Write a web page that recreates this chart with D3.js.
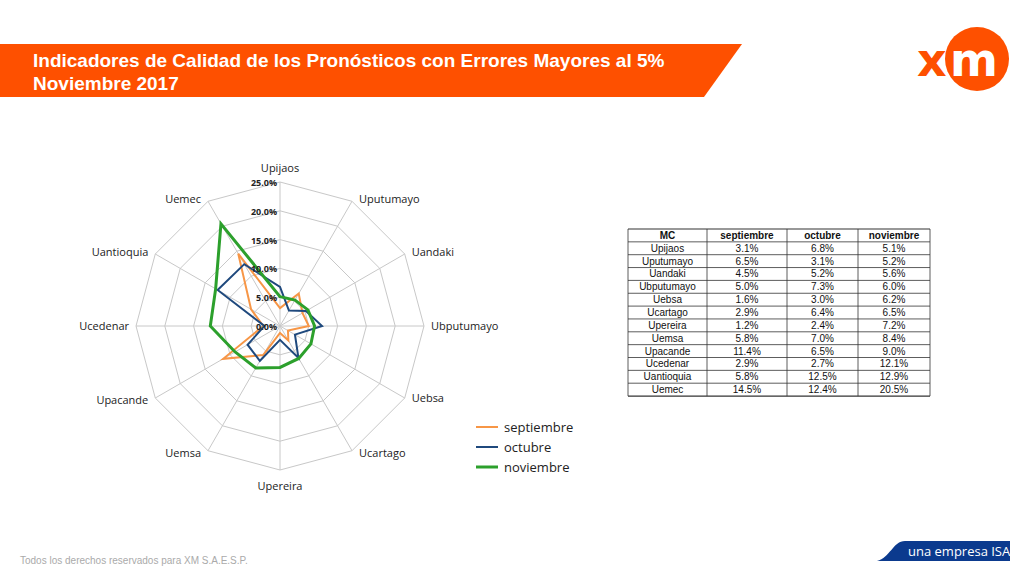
<!DOCTYPE html>
<html><head><meta charset="utf-8">
<script src="https://cdn.jsdelivr.net/npm/d3@7"></script>
<style>body{margin:0;background:#fff}svg{display:block}</style>
</head><body><svg id="c" width="1024" height="576"></svg>
<script>
const categories=["Upijaos","Uputumayo","Uandaki","Ubputumayo","Uebsa","Ucartago","Upereira","Uemsa","Upacande","Ucedenar","Uantioquia","Uemec"];
const septiembre=[3.1,6.5,4.5,5.0,1.6,2.9,1.2,5.8,11.4,2.9,5.8,14.5];
const octubre=[6.8,3.1,5.2,7.3,3.0,6.4,2.4,7.0,6.5,2.7,12.5,12.4];
const noviembre=[5.1,5.2,5.6,6.0,6.2,6.5,7.2,8.4,9.0,12.1,12.9,20.5];
const seriesNames=["septiembre","octubre","noviembre"];
const colors=["#f79646","#1f497d","#2ca02c"];
const ticks=[0,5,10,15,20,25];

const svg=d3.select("#c");
svg.append("path").attr("d","M0,44 L742,44 L704,97 L0,97 Z").attr("fill","#fe5000");
svg.append("text").attr("x",33).attr("y",67).attr("fill","#fff").attr("font-family","Liberation Sans, Arial").attr("font-weight","bold").attr("font-size",19).text("Indicadores de Calidad de los Pronósticos con Errores Mayores al 5%");
svg.append("text").attr("x",33).attr("y",90).attr("fill","#fff").attr("font-family","Liberation Sans, Arial").attr("font-weight","bold").attr("font-size",19).text("Noviembre 2017");
svg.append("circle").attr("cx",977).attr("cy",59).attr("r",32).attr("fill","#fe5000");
svg.append("text").attr("x",917).attr("y",76).attr("fill","#fe5000").attr("font-family","DejaVu Sans").attr("font-weight","bold").attr("font-size",46).text("x");
svg.append("text").attr("x",950).attr("y",76).attr("fill","#fff").attr("font-family","DejaVu Sans").attr("font-weight","bold").attr("font-size",46).text("m");
svg.append("text").attr("x",20).attr("y",564).attr("fill","#aaa").attr("font-family","Liberation Sans, Arial").attr("font-size",10).text("Todos los derechos reservados para XM S.A.E.S.P.");
svg.append("path").attr("d","M877,561 C890,558 893,541 905,541 L1010,541 L1010,561 Z").attr("fill","#0b3a8e");
svg.append("text").attr("x",908).attr("y",556).attr("fill","#fff").attr("font-family","Open Sans, Arial").attr("font-size",13).text("una empresa ISA");

const cx=280,cy=326,R=144;
const r=d3.scaleLinear().domain([0,25]).range([0,R]);
const ang=d3.scaleLinear().domain([0,categories.length]).range([0,2*Math.PI]);
const pt=(i,v)=>[cx+r(v)*Math.sin(ang(i)),cy-r(v)*Math.cos(ang(i))];
const g=svg.append("g");
ticks.slice(1).forEach(t=>{
  g.append("path").attr("d",d3.line()(categories.map((c,i)=>pt(i,t)))+"Z").attr("fill","none").attr("stroke","#c8c8c8").attr("stroke-width",1);
});
categories.forEach((c,i)=>{
  const [x,y]=pt(i,25);
  g.append("line").attr("x1",cx).attr("y1",cy).attr("x2",x).attr("y2",y).attr("stroke","#c8c8c8");
  const s=Math.sin(ang(i)),co=Math.cos(ang(i));
  let lx=x,ly=y+4,anchor="middle";
  if(Math.abs(s)<0.1){ly=co>0?y-10:y+20;}
  else{lx=x+(s>0?7:-7);anchor=s>0?"start":"end";ly=y+4-(Math.abs(co)>0.5?(co>0?1:-1)*2:0);}
  g.append("text").attr("x",lx).attr("y",ly).attr("text-anchor",anchor)
   .attr("font-family","Open Sans, Arial").attr("font-size",11).attr("fill","#222").text(c);
});
const vals=[septiembre,octubre,noviembre];
vals.forEach((v,k)=>{
  g.append("path").attr("d",d3.line()(v.map((d,i)=>pt(i,d)))+"Z").attr("fill","none").attr("stroke",colors[k]).attr("stroke-width",k==2?3:2).attr("stroke-linejoin","miter");
});
ticks.forEach(t=>{
  g.append("text").attr("x",cx-3).attr("y",cy-r(t)+4).attr("text-anchor","end").attr("font-family","Open Sans, Arial").attr("font-weight","bold").attr("font-size",9).attr("fill","#222").text(t.toFixed(1)+"%");
});
seriesNames.forEach((n,k)=>{
  const y=427+k*20;
  svg.append("line").attr("x1",476).attr("x2",498).attr("y1",y).attr("y2",y).attr("stroke",colors[k]).attr("stroke-width",k==2?3:2);
  svg.append("text").attr("x",504).attr("y",y+5).attr("font-family","Open Sans, Arial").attr("font-size",13).attr("fill","#222").text(n);
});
const cols=[628,707,787,858,930];
const rowH=12.85,tblTop=229;
const header=["MC"].concat(seriesNames);
const t=svg.append("g").attr("font-family","Liberation Sans, Arial").attr("font-size",10).attr("fill","#111");
const nRows=categories.length+1;
for(let j=0;j<=nRows;j++) t.append("line").attr("x1",cols[0]).attr("x2",cols[4]).attr("y1",tblTop+j*rowH).attr("y2",tblTop+j*rowH).attr("stroke","#333").attr("stroke-width",j==0||j==nRows?1.2:0.8);
cols.forEach(x=>t.append("line").attr("x1",x).attr("x2",x).attr("y1",tblTop).attr("y2",tblTop+nRows*rowH).attr("stroke","#333").attr("stroke-width",0.8));
header.forEach((h,c)=>t.append("text").attr("x",(cols[c]+cols[c+1])/2).attr("y",tblTop+rowH-3).attr("text-anchor","middle").attr("font-weight","bold").text(h));
categories.forEach((cat,i)=>{
  const row=[cat].concat(vals.map(v=>v[i].toFixed(1)+"%"));
  row.forEach((s,c)=>t.append("text").attr("x",(cols[c]+cols[c+1])/2).attr("y",tblTop+(i+2)*rowH-3).attr("text-anchor","middle").text(s));
});
</script></body></html>
